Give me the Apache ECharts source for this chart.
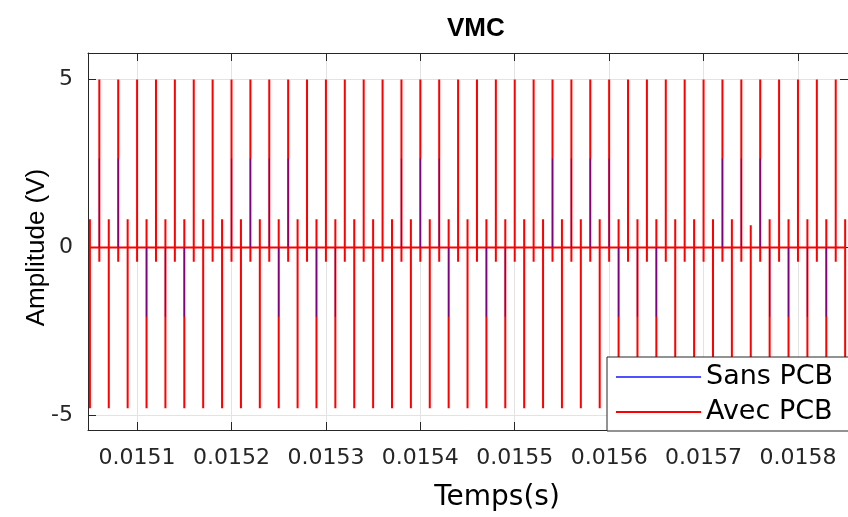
<!DOCTYPE html>
<html>
<head>
<meta charset="utf-8">
<script src="https://cdn.jsdelivr.net/npm/echarts@6/dist/echarts.min.js"></script>
<style>
html,body{margin:0;padding:0;background:#fff;}
#chart{width:848px;height:517px;}
</style>
</head>
<body>
<div id="chart"></div>
<script>
// ---- data ----
const spikeTimes = [
  0.01505, 0.01506, 0.01507, 0.01508, 0.01509, 0.01510, 0.01511, 0.01512, 0.01513, 0.01514,
  0.01515, 0.01516, 0.01517, 0.01518, 0.01519, 0.01520, 0.01521, 0.01522, 0.01523, 0.01524,
  0.01525, 0.01526, 0.01527, 0.01528, 0.01529, 0.01530, 0.01531, 0.01532, 0.01533, 0.01534,
  0.01535, 0.01536, 0.01537, 0.01538, 0.01539, 0.01540, 0.01541, 0.01542, 0.01543, 0.01544,
  0.01545, 0.01546, 0.01547, 0.01548, 0.01549, 0.01550, 0.01551, 0.01552, 0.01553, 0.01554,
  0.01555, 0.01556, 0.01557, 0.01558, 0.01559, 0.01560, 0.01561, 0.01562, 0.01563, 0.01564,
  0.01565, 0.01566, 0.01567, 0.01568, 0.01569, 0.01570, 0.01571, 0.01572, 0.01573, 0.01574,
  0.01575, 0.01576, 0.01577, 0.01578, 0.01579, 0.01580, 0.01581, 0.01582, 0.01583, 0.01584,
  0.01585
];
// "Avec PCB" (red): peak and trough of each spike
const redHigh = [
  0.84, 5, 0.84, 5, 0.84, 5, 0.84, 5, 0.84, 5,
  0.84, 5, 0.84, 5, 0.84, 5, 0.84, 5, 0.84, 5,
  0.84, 5, 0.84, 5, 0.84, 5, 0.84, 5, 0.84, 5,
  0.84, 5, 0.84, 5, 0.84, 5, 0.84, 5, 0.84, 5,
  0.84, 5, 0.84, 5, 0.84, 5, 0.84, 5, 0.84, 5,
  0.84, 5, 0.84, 5, 0.84, 5, 0.84, 5, 0.84, 5,
  0.84, 5, 0.84, 5, 0.84, 5, 0.84, 5, 0.84, 5,
  0.66, 5, 0.84, 5, 0.84, 5, 0.84, 5, 0.84, 5,
  0.84
];
const redLow = [
  -4.78, -0.42, -4.78, -0.42, -4.78, -0.42, -4.78, -0.42, -4.78, -0.42,
  -4.78, -0.42, -4.78, -0.42, -4.78, -0.42, -4.78, -0.42, -4.78, -0.42,
  -4.78, -0.42, -4.78, -0.42, -4.78, -0.42, -4.78, -0.42, -4.78, -0.42,
  -4.78, -0.42, -4.78, -0.42, -4.78, -0.42, -4.78, -0.42, -4.78, -0.42,
  -4.78, -0.42, -4.78, -0.42, -4.78, -0.42, -4.78, -0.42, -4.78, -0.42,
  -4.78, -0.42, -4.78, -0.42, -4.78, -0.42, -4.78, -0.42, -4.78, -0.42,
  -4.78, -0.42, -4.78, -0.42, -4.78, -0.42, -4.78, -0.42, -4.78, -0.42,
  -4.78, -0.42, -4.78, -0.42, -4.78, -0.42, -4.78, -0.42, -4.78, -0.42,
  -4.78
];
// "Sans PCB" (blue): peak and trough of each spike (0 = stays on the baseline)
const blueHigh = [
  0, 2.65, 0, 2.65, 0, 0, 0, 0, 0, 0,
  0, 0, 0, 0, 0, 2.65, 0, 2.65, 0, 2.65,
  0, 2.65, 0, 0, 0, 0, 0, 0, 0, 0,
  0, 0, 0, 2.65, 0, 2.65, 0, 2.65, 0, 0,
  0, 0, 0, 0, 0, 0, 0, 0, 0, 2.65,
  0, 2.65, 0, 2.65, 0, 2.65, 0, 0, 0, 0,
  0, 0, 0, 0, 0, 0, 0, 2.65, 0, 2.65,
  0, 2.65, 0, 0, 0, 0, 0, 0, 0, 0,
  0
];
const blueLow = [
  0, 0, 0, 0, 0, 0, -2.06, 0, -2.06, 0,
  -2.06, 0, 0, 0, 0, 0, 0, 0, 0, 0,
  -2.06, 0, 0, 0, -2.06, 0, -2.06, 0, 0, 0,
  0, 0, 0, 0, 0, 0, 0, 0, -2.06, 0,
  0, 0, -2.06, 0, -2.06, 0, 0, 0, 0, 0,
  0, 0, 0, 0, 0, 0, -2.06, 0, -2.06, 0,
  -2.06, 0, 0, 0, 0, 0, 0, 0, 0, 0,
  0, 0, -2.06, 0, -2.06, 0, -2.06, 0, -2.06, 0,
  0
];
const baseline = 0;
const xTicks = [0.0151, 0.0152, 0.0153, 0.0154, 0.0155, 0.0156, 0.0157, 0.0158];
const yTicks = [-5, 0, 5];
const seriesNames = ['Sans PCB', 'Avec PCB'];

// ---- build line data (vertical strokes at each spike time) ----
function buildRed(times, hi, lo, base) {
  const out = [];
  for (let i = 0; i < times.length; i++) {
    out.push([times[i], base], [times[i], hi[i]], [times[i], lo[i]], [times[i], base]);
  }
  return out;
}
// the blue baseline lies under the red one; only its excursions are stroked
function buildBlue(times, hi, lo, base) {
  const out = [];
  for (let i = 0; i < times.length; i++) {
    if (hi[i] === 0 && lo[i] === 0) continue;
    out.push([times[i], base]);
    if (hi[i] !== 0) out.push([times[i], hi[i]]);
    if (lo[i] !== 0) out.push([times[i], lo[i]]);
    out.push([times[i], base], [times[i], '-']);
  }
  return out;
}
const redData = buildRed(spikeTimes, redHigh, redLow, baseline);
const blueData = buildBlue(spikeTimes, blueHigh, blueLow, baseline);

const FONT = '"DejaVu Sans", "Liberation Sans", Arial, sans-serif';
const TFONT = '"Liberation Sans", Arial, Helvetica, sans-serif';
const AX = '#262626';
const xMin = 0.015048, xMax = 0.015853;
const yMin = -5.43, yMax = 5.79;

const chart = echarts.init(document.getElementById('chart'), null, {renderer: 'canvas'});
chart.setOption({
  animation: false,
  backgroundColor: '#ffffff',
  title: {
    text: 'VMC',
    left: 442, top: 11,
    textStyle: {fontFamily: TFONT, fontSize: 26, fontWeight: 'bold', color: '#000'}
  },
  grid: {left: 88, right: 0, top: 53, bottom: 86, containLabel: false},
  legend: {
    orient: 'vertical',
    left: 607, top: 357,
    padding: [5, 25, 4, 9],
    itemGap: 5,
    itemWidth: 85, itemHeight: 2,
    icon: 'rect',
    backgroundColor: '#ffffff',
    borderColor: AX, borderWidth: 1, borderRadius: 0,
    textStyle: {fontFamily: FONT, fontSize: 27, color: '#000', lineHeight: 30},
    data: [
      {name: seriesNames[0], itemStyle: {color: '#5050ff', opacity: 1}},
      {name: seriesNames[1], itemStyle: {color: '#ff0000', opacity: 1}}
    ]
  },
  xAxis: [{
    type: 'value', min: xMin, max: xMax, position: 'bottom',
    name: 'Temps(s)', nameLocation: 'middle', nameGap: 54,
    nameTextStyle: {fontFamily: FONT, fontSize: 28, color: '#000', padding: [0, 0, 0, 58]},
    axisLine: {show: true, onZero: false, lineStyle: {color: AX, width: 1}},
    axisTick: {show: true, inside: true, length: 8, customValues: xTicks, lineStyle: {color: AX}},
    axisLabel: {customValues: xTicks, margin: 17, fontFamily: FONT, fontSize: 22, color: AX,
      formatter: v => v.toFixed(4)},
    splitLine: {show: true, lineStyle: {color: '#e3e3e3', width: 1}}
  }, {
    type: 'value', min: xMin, max: xMax, position: 'top',
    axisLine: {show: true, onZero: false, lineStyle: {color: AX, width: 1}},
    axisTick: {show: true, inside: true, length: 8, customValues: xTicks, lineStyle: {color: AX}},
    axisLabel: {show: false},
    splitLine: {show: false}
  }],
  yAxis: [{
    type: 'value', min: yMin, max: yMax, position: 'left',
    name: 'Amplitude (V)', nameLocation: 'middle', nameGap: 38, nameRotate: 90,
    nameMoveOverlap: false,
    nameTextStyle: {fontFamily: TFONT, fontSize: 26, color: '#000', padding: [0, 12, 0, 0]},
    axisLine: {show: true, onZero: false, lineStyle: {color: AX, width: 1}},
    axisTick: {show: true, inside: true, length: 8, customValues: yTicks, lineStyle: {color: AX}},
    axisLabel: {customValues: yTicks, margin: 15, fontFamily: FONT, fontSize: 22, color: AX},
    splitLine: {show: true, lineStyle: {color: '#e3e3e3', width: 1}}
  }, {
    type: 'value', min: yMin, max: yMax, position: 'right',
    axisLine: {show: true, onZero: false, lineStyle: {color: AX, width: 1}},
    axisTick: {show: true, inside: true, length: 8, customValues: yTicks, lineStyle: {color: AX}},
    axisLabel: {show: false},
    splitLine: {show: false}
  }],
  series: [{
    name: seriesNames[1], type: 'line', data: redData, xAxisIndex: 0, yAxisIndex: 0,
    showSymbol: false, symbol: 'none', sampling: null, z: 2,
    lineStyle: {color: '#ff0000', width: 2},
    itemStyle: {color: '#ff0000'}
  }, {
    name: seriesNames[0], type: 'line', data: blueData, xAxisIndex: 0, yAxisIndex: 0,
    showSymbol: false, symbol: 'none', sampling: null, connectNulls: false, z: 3,
    lineStyle: {color: '#0000ff', width: 1.3, opacity: 0.5},
    itemStyle: {color: '#5050ff'}
  }]
});
</script>
</body>
</html>
